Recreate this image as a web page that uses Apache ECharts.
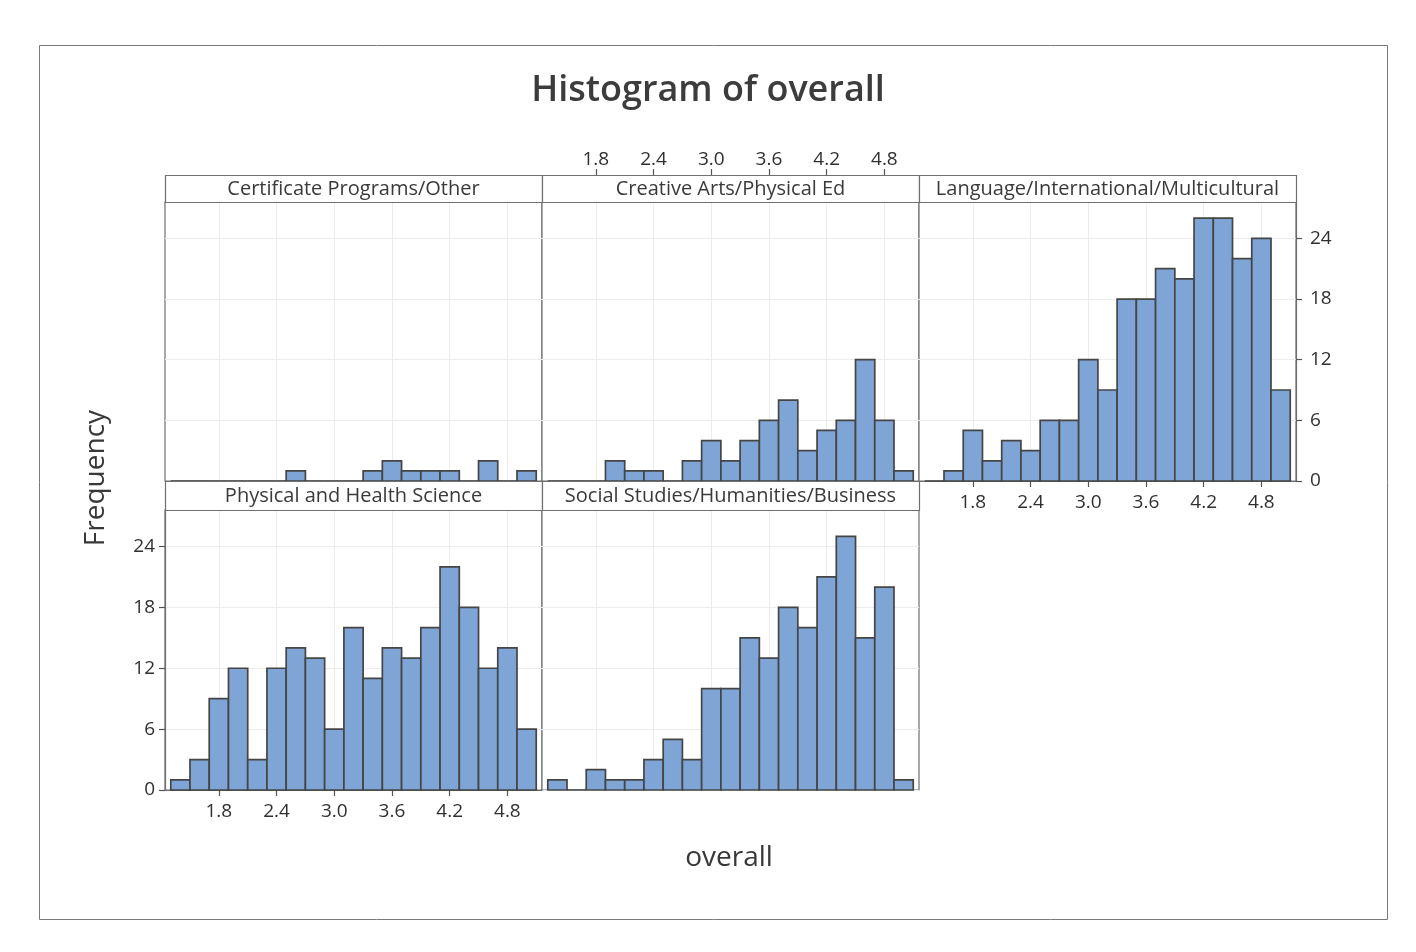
<!DOCTYPE html>
<html>
<head>
<meta charset="utf-8">
<script src="https://cdn.jsdelivr.net/npm/echarts@6/dist/echarts.min.js"></script>
<style>
html,body{margin:0;padding:0;background:#fff;}
#chart{width:1416px;height:952px;}
</style>
</head>
<body>
<div id="chart"></div>
<script>
// ---- Data ----
const binEdges = [1.3,1.5,1.7,1.9,2.1,2.3,2.5,2.7,2.9,3.1,3.3,3.5,3.7,3.9,4.1,4.3,4.5,4.7,4.9,5.1];
const panelNames = [
  'Certificate Programs/Other',
  'Creative Arts/Physical Ed',
  'Language/International/Multicultural',
  'Physical and Health Science',
  'Social Studies/Humanities/Business'
];
const certificate = [0,0,0,0,0,0,1,0,0,0,1,2,1,1,1,0,2,0,1];
const creative    = [0,0,0,2,1,1,0,2,4,2,4,6,8,3,5,6,12,6,1];
const language    = [0,1,5,2,4,3,6,6,12,9,18,18,21,20,26,26,22,24,9];
const physical    = [1,3,9,12,3,12,14,13,6,16,11,14,13,16,22,18,12,14,6];
const social      = [1,0,2,1,1,3,5,3,10,10,15,13,18,16,21,25,15,20,1];
const xTicks = [1.8,2.4,3.0,3.6,4.2,4.8];
const yTicks = [0,6,12,18,24];
const chartTitle = 'Histogram of overall';
const xTitle = 'overall';
const yTitle = 'Frequency';

const seriesValues = [certificate, creative, language, physical, social];

// ---- Layout ----
const FONT = "'Open Sans', 'Noto Sans', sans-serif";
const colLeft = [165, 542, 919];
const panelW = 377;
const rows = [
  {stripTop: 175, top: 202, height: 279},
  {stripTop: 481, top: 510, height: 280}
];
const panelPos = [[0,0],[0,1],[0,2],[1,0],[1,1]]; // [row, col]
const axisShow = [['none','none'],['top','none'],['bottom','right'],['bottom','left'],['none','none']];

const X_MIN = 1.24, X_MAX = 5.16, Y_MAX = 27.6;
const borderColor = '#6f6f6f';
const tickColor = '#555555';
const gridLineColor = '#ececec';
const textColor = '#303030';

const grids = [], xAxes = [], yAxes = [], series = [], graphics = [];

panelPos.forEach(([r, c], i) => {
  const row = rows[r];
  const left = colLeft[c];
  grids.push({
    left: left, top: row.top, width: panelW, height: row.height,
    show: true, borderColor: borderColor, borderWidth: 1.2, backgroundColor: '#fff'
  });
  const xs = axisShow[i][0], ys = axisShow[i][1];
  xAxes.push({
    type: 'value', gridIndex: i, min: X_MIN, max: X_MAX,
    position: xs === 'top' ? 'top' : 'bottom',
    offset: xs === 'top' ? (row.top - row.stripTop) : 0,
    axisLine: {show: xs !== 'none', onZero: false, lineStyle: {color: borderColor, width: 1.2}},
    axisTick: {show: xs !== 'none', customValues: xTicks, length: 6, lineStyle: {color: tickColor, width: 1.2}},
    axisLabel: {show: xs !== 'none', customValues: xTicks, margin: xs === 'top' ? 6 : 12,
      fontFamily: FONT, fontSize: 19, color: textColor,
      formatter: v => Number(v).toFixed(1)},
    splitLine: {show: true, lineStyle: {color: gridLineColor, width: 1}}
  });
  yAxes.push({
    type: 'value', gridIndex: i, min: 0, max: Y_MAX,
    position: ys === 'right' ? 'right' : 'left',
    axisLine: {show: ys !== 'none', onZero: false, lineStyle: {color: borderColor, width: 1.2}},
    axisTick: {show: ys !== 'none', customValues: yTicks, length: 6, lineStyle: {color: tickColor, width: 1.2}},
    axisLabel: {show: ys !== 'none', customValues: yTicks, margin: ys === 'right' ? 14 : 10,
      fontFamily: FONT, fontSize: 19, color: textColor},
    splitLine: {show: true, lineStyle: {color: gridLineColor, width: 1}}
  });
  const data = seriesValues[i].map((v, k) => [binEdges[k], binEdges[k+1], v]);
  series.push({
    type: 'custom', xAxisIndex: i, yAxisIndex: i, data: data, silent: true,
    renderItem: function (params, api) {
      const p0 = api.coord([api.value(0), 0]);
      const p1 = api.coord([api.value(1), api.value(2)]);
      return {
        type: 'rect',
        shape: {x: p0[0], y: p1[1], width: p1[0] - p0[0], height: p0[1] - p1[1]},
        style: {fill: '#7fa5d6', stroke: '#454545', lineWidth: 1.7}
      };
    }
  });
  graphics.push({
    type: 'rect', silent: true, z: 10,
    shape: {x: left + 0.5, y: row.stripTop + 0.5, width: panelW, height: row.top - row.stripTop},
    style: {fill: '#fff', stroke: borderColor, lineWidth: 1.2}
  });
  graphics.push({
    type: 'text', silent: true, z: 11,
    x: left + panelW / 2, y: (row.stripTop + row.top) / 2 + 1,
    style: {text: panelNames[i], fill: '#3a3a3a', font: "20px " + FONT, align: 'center', verticalAlign: 'middle'}
  });
});

graphics.push({
  type: 'rect', silent: true, z: 0,
  shape: {x: 39.5, y: 45.5, width: 1348, height: 874},
  style: {fill: 'none', stroke: '#7a7a7a', lineWidth: 1}
});
graphics.push({
  type: 'text', silent: true,
  x: 729, y: 858,
  style: {text: xTitle, fill: '#383838', font: "28px " + FONT, align: 'center', verticalAlign: 'middle'}
});
graphics.push({
  type: 'text', silent: true,
  x: 96, y: 478, rotation: Math.PI / 2,
  style: {text: yTitle, fill: '#383838', font: "28px " + FONT, align: 'center', verticalAlign: 'middle'}
});

const chart = echarts.init(document.getElementById('chart'), null, {renderer: 'canvas'});
chart.setOption({
  backgroundColor: '#fff',
  animation: false,
  title: {
    text: chartTitle, left: 'center', top: 68,
    textStyle: {fontFamily: FONT, fontSize: 36, fontWeight: 600, color: '#3c3c3c'}
  },
  grid: grids,
  xAxis: xAxes,
  yAxis: yAxes,
  series: series,
  graphic: graphics
});
</script>
</body>
</html>
